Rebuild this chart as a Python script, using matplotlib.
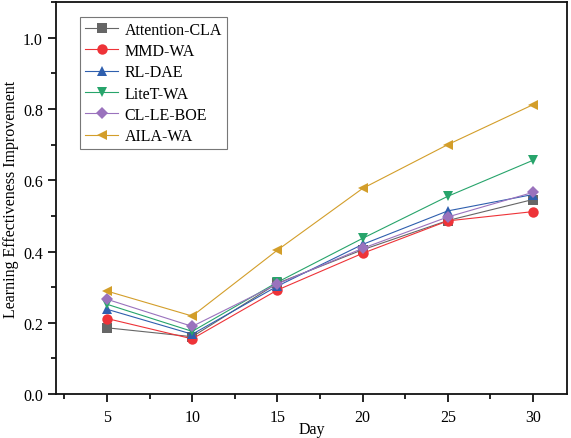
import matplotlib.pyplot as plt
from matplotlib.ticker import MultipleLocator

plt.rcParams['font.family'] = ['Liberation Serif', 'DejaVu Serif']
plt.rcParams['mathtext.fontset'] = 'stix'

days = [5, 10, 15, 20, 25, 30]
attention_cla = [0.186, 0.161, 0.311, 0.405, 0.487, 0.546]
mmd_wa = [0.212, 0.155, 0.292, 0.395, 0.486, 0.512]
rl_dae = [0.238, 0.168, 0.303, 0.420, 0.514, 0.560]
litet_wa = [0.252, 0.176, 0.314, 0.437, 0.555, 0.656]
cl_le_boe = [0.266, 0.190, 0.309, 0.409, 0.497, 0.566]
aila_wa = [0.289, 0.219, 0.404, 0.577, 0.700, 0.812]

# name, values, colour, marker
series = [
    ('Attention-CLA', attention_cla, '#666666', 's'),
    ('MMD-WA', mmd_wa, '#ee3338', 'o'),
    ('RL-DAE', rl_dae, '#2f5fae', '^'),
    ('LiteT-WA', litet_wa, '#27a46b', 'v'),
    ('CL-LE-BOE', cl_le_boe, '#9a72bd', 'D'),
    ('AILA-WA', aila_wa, '#d39e2a', '<'),
]

fig = plt.figure(figsize=(5.71, 4.39), dpi=100)
ax = fig.add_axes([0.098, 0.100, 0.895, 0.893])

for name, vals, col, mk in series:
    ms = 6.5 if mk == 'D' else 7.5
    ax.plot(days, vals, color=col, lw=0.8, marker=mk, markersize=ms,
            markeredgewidth=0, label=name)

ax.set_xlim(2, 32)
ax.set_ylim(0, 1.1)
ax.xaxis.set_major_locator(MultipleLocator(5))
ax.xaxis.set_minor_locator(MultipleLocator(2.5))
ax.yaxis.set_minor_locator(MultipleLocator(0.1))
ax.set_yticks([0, 0.2, 0.4, 0.6, 0.8, 1.0])
ax.set_yticklabels(['0.0', '0.2', '0.4', '0.6', '0.8', '1.0'])
ax.tick_params(which='both', direction='out', width=1.2, labelsize=11.5,
               top=False, right=False)
ax.tick_params(which='major', length=6)
ax.tick_params(which='minor', length=3.5)
ax.tick_params(axis='x', which='major', pad=5)
for s in ax.spines.values():
    s.set_linewidth(1.3)
    s.set_color('#111111')

ax.set_xlabel('Day', fontsize=11.5, labelpad=-3)
ax.set_ylabel('Learning Effectiveness Improvement', fontsize=11.5, labelpad=3)

leg = ax.legend(loc='upper left', bbox_to_anchor=(0.047, 0.962), fontsize=11.5,
                frameon=True, fancybox=False, handlelength=2.1,
                handletextpad=0.4, borderpad=0.3, labelspacing=0.33,
                borderaxespad=0)
leg.get_frame().set_edgecolor('#555555')
leg.get_frame().set_linewidth(0.8)

fig.savefig('out.png', dpi=100)
